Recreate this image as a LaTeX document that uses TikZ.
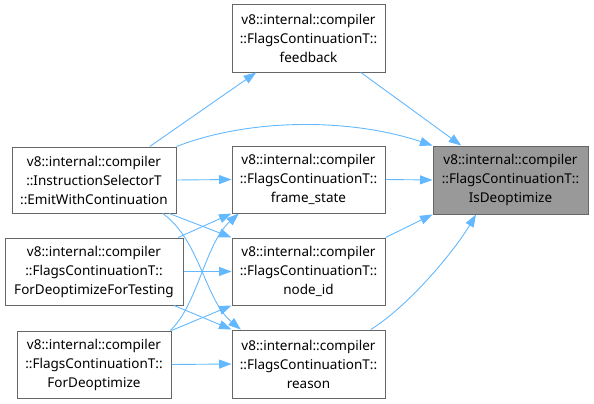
\documentclass[tikz,border=0pt]{standalone}
\usepackage{fontspec}
\setmainfont{Noto Sans}
\usetikzlibrary{arrows.meta}
\definecolor{borde}{HTML}{666666}
\definecolor{arista}{HTML}{63B8FF}
\definecolor{relleno}{HTML}{999999}
\tikzset{
  caja/.style={draw=borde, line width=1pt, fill=white, align=center, inner sep=0pt,
    minimum width=153pt, minimum height=67pt, font=\fontsize{13.5}{19}\selectfont},
  flecha/.style={draw=arista, line width=0.9pt, -{Triangle[length=12.5pt,width=9pt]}},
}
\begin{document}
\begin{tikzpicture}[x=1pt, y=-1pt]
  \useasboundingbox (0,0) rectangle (594,404);
  % nodos
  \node[caja] (feedback) at (308.5,38.5) {v8::internal::compiler\\::FlagsContinuationT::\\feedback};
  \node[caja, fill=relleno, minimum width=155pt, minimum height=68pt] (isdeopt) at (510.5,180) {v8::internal::compiler\\::FlagsContinuationT::\\IsDeoptimize};
  \node[caja, minimum width=164pt, minimum height=66pt] (emit) at (94,180) {v8::internal::compiler\\::InstructionSelectorT\\::EmitWithContinuation};
  \node[caja] (framestate) at (308.5,179.5) {v8::internal::compiler\\::FlagsContinuationT::\\frame\_state};
  \node[caja, minimum width=178pt] (testing) at (94,271.5) {v8::internal::compiler\\::FlagsContinuationT::\\ForDeoptimizeForTesting};
  \node[caja] (nodeid) at (308.5,271.5) {v8::internal::compiler\\::FlagsContinuationT::\\node\_id};
  \node[caja, minimum width=154pt] (fordeopt) at (94,364.5) {v8::internal::compiler\\::FlagsContinuationT::\\ForDeoptimize};
  \node[caja, minimum height=68pt] (reason) at (308.5,364) {v8::internal::compiler\\::FlagsContinuationT::\\reason};
  % desde EmitWithContinuation
  \draw[flecha] (emit.31) -- (feedback.213);
  \draw[flecha] (emit.north east) .. controls (250,118) and (350,118) .. (isdeopt.north west);
  \draw[flecha] (emit.east) -- (framestate.west);
  \draw[flecha] (emit.336) -- (nodeid.north west);
  \draw[flecha] (emit.334) .. controls (200,240) and (205,300) .. (reason.153);
  % desde ForDeoptimizeForTesting
  \draw[flecha] (testing.22.5) -- (framestate.south west);
  \draw[flecha] (testing.east) -- (nodeid.west);
  \draw[flecha] (testing.337.5) -- (reason.north west);
  % desde ForDeoptimize
  \draw[flecha] (fordeopt.24) .. controls (198,304) and (205,244) .. (framestate.206);
  \draw[flecha] (fordeopt.north east) -- (nodeid.south west);
  \draw[flecha] (fordeopt.east) -- (reason.west);
  % hacia IsDeoptimize
  \draw[flecha] (feedback.327) -- (isdeopt.145);
  \draw[flecha] (framestate.east) -- (isdeopt.west);
  \draw[flecha] (nodeid.north east) -- (isdeopt.south west);
  \draw[flecha] (reason.29) .. controls (410,305) and (455,250) .. (isdeopt.225);
\end{tikzpicture}
\end{document}
